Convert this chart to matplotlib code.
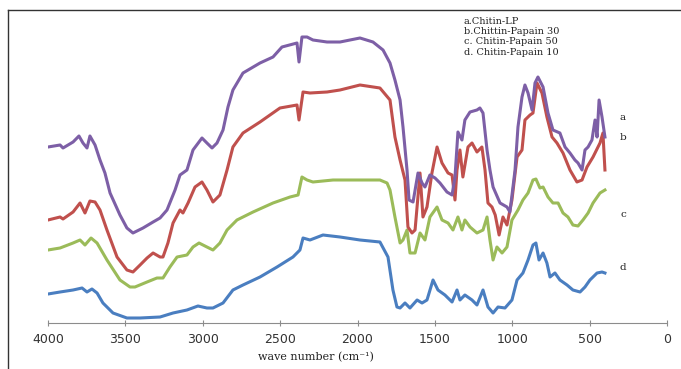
import matplotlib
matplotlib.use("Agg")
import matplotlib.pyplot as plt
from matplotlib.lines import Line2D

# wave numbers (cm-1) and transmittance (a.u.)
wn_a = [4000, 3922, 3903, 3838, 3800, 3774, 3748, 3729, 3696, 3664, 3632, 3599, 3535, 3490, 3451,
        3386, 3321, 3276, 3231, 3179, 3147, 3102, 3063, 3005, 2973, 2940, 2908, 2869, 2837, 2805,
        2740, 2630, 2546, 2488, 2391, 2378, 2359, 2326, 2288, 2197, 2113, 1984, 1900, 1835, 1790,
        1758, 1725, 1706, 1680, 1667, 1641, 1609, 1583, 1564, 1532, 1499, 1467, 1422, 1389, 1370,
        1351, 1325, 1306, 1273, 1228, 1209, 1189, 1163, 1144, 1124, 1079, 1034, 1015, 982, 963,
        937, 918, 898, 872, 853, 834, 801, 769, 737, 692, 659, 627, 595, 575, 549,
        530, 510, 485, 465, 452, 439, 420, 401]
t_a = [183, 185, 182, 188, 194, 187, 182, 194, 185, 170, 157, 137, 115, 102, 97,
       102, 108, 112, 120, 140, 155, 160, 180, 192, 187, 182, 187, 200, 223, 240,
       257, 267, 273, 283, 287, 268, 293, 293, 290, 288, 288, 292, 288, 280, 267,
       250, 230, 203, 160, 130, 128, 157, 147, 143, 155, 152, 147, 138, 135, 153,
       198, 190, 210, 218, 220, 222, 217, 180, 160, 143, 127, 123, 118, 160, 203,
       233, 245, 237, 220, 247, 253, 243, 217, 200, 197, 183, 177, 170, 167, 160,
       180, 183, 190, 210, 193, 230, 213, 193]

wn_b = [4000, 3922, 3903, 3838, 3793, 3761, 3729, 3696, 3664, 3619, 3554, 3490, 3451, 3405, 3360,
        3321, 3276, 3257, 3225, 3192, 3147, 3128, 3095, 3050, 3005, 2973, 2934, 2889, 2843, 2805,
        2740, 2630, 2501, 2391, 2378, 2352, 2307, 2197, 2113, 1984, 1855, 1790, 1758, 1725, 1693,
        1674, 1648, 1628, 1596, 1577, 1551, 1519, 1486, 1454, 1415, 1389, 1370, 1357, 1338, 1319,
        1286, 1260, 1228, 1196, 1176, 1157, 1131, 1110, 1085, 1060, 1034, 1002, 969, 937, 918,
        885, 866, 840, 808, 776, 743, 711, 672, 627, 582, 549, 517, 478, 433, 414,
        401]
t_b = [110, 113, 111, 118, 127, 117, 129, 128, 120, 100, 73, 60, 58, 65, 72,
       77, 73, 73, 87, 107, 120, 117, 127, 143, 148, 140, 128, 135, 160, 183,
       197, 208, 222, 225, 210, 238, 237, 238, 240, 245, 242, 230, 193, 170, 150,
       103, 97, 100, 157, 113, 123, 157, 183, 167, 157, 155, 130, 160, 180, 153,
       183, 187, 178, 183, 160, 127, 123, 115, 95, 113, 105, 130, 173, 180, 210,
       215, 217, 247, 237, 213, 193, 187, 177, 160, 148, 150, 163, 173, 187, 197,
       160]

wn_c = [4000, 3922, 3838, 3793, 3761, 3722, 3683, 3619, 3535, 3470, 3438, 3360, 3296, 3257, 3212,
        3166, 3102, 3063, 3024, 2973, 2934, 2889, 2843, 2779, 2675, 2546, 2436, 2384, 2359, 2326,
        2288, 2158, 1939, 1855, 1809, 1790, 1758, 1725, 1706, 1680, 1661, 1628, 1596, 1564, 1532,
        1486, 1454, 1415, 1383, 1351, 1325, 1306, 1273, 1228, 1189, 1163, 1144, 1124, 1099, 1066,
        1034, 1002, 963, 931, 898, 866, 847, 821, 801, 769, 737, 704, 672, 640, 608,
        575, 543, 510, 478, 433, 401]
t_c = [80, 82, 87, 90, 85, 92, 87, 70, 50, 43, 43, 48, 52, 52, 63,
       73, 75, 83, 87, 83, 80, 87, 100, 110, 118, 127, 133, 135, 153, 150,
       148, 150, 150, 150, 147, 140, 113, 87, 90, 100, 77, 77, 97, 90, 113,
       123, 110, 107, 100, 113, 100, 110, 103, 97, 100, 113, 90, 70, 83, 77,
       83, 110, 120, 130, 137, 150, 151, 142, 143, 133, 127, 127, 117, 113, 105,
       104, 110, 117, 127, 137, 140]

wn_d = [4000, 3922, 3838, 3780, 3748, 3716, 3683, 3645, 3580, 3490, 3405, 3276, 3192, 3102, 3031,
        2973, 2934, 2869, 2805, 2740, 2630, 2520, 2417, 2372, 2352, 2307, 2223, 2113, 1984, 1855,
        1803, 1771, 1745, 1725, 1693, 1661, 1615, 1583, 1551, 1512, 1480, 1435, 1389, 1357, 1338,
        1306, 1260, 1228, 1189, 1157, 1124, 1092, 1047, 1002, 969, 931, 898, 866, 847, 827,
        801, 776, 756, 724, 692, 646, 608, 562, 530, 498, 452, 420, 401]
t_d = [36, 38, 40, 42, 38, 41, 37, 27, 17, 12, 12, 13, 17, 20, 24,
       22, 22, 27, 40, 45, 53, 63, 73, 80, 92, 90, 95, 93, 90, 88,
       73, 40, 23, 22, 27, 22, 30, 27, 30, 50, 40, 35, 28, 40, 30,
       35, 30, 25, 40, 23, 17, 23, 22, 30, 50, 57, 70, 85, 87, 70,
       77, 67, 53, 57, 50, 45, 40, 38, 43, 50, 57, 58, 57]

legend_lines = ["a.Chitin-LP", "b.Chittin-Papain 30", "c. Chitin-Papain 50", "d. Chitin-Papain 10"]
xticks = [4000, 3500, 3000, 2500, 2000, 1500, 1000, 500, 0]

W, H = 681, 369
fig = plt.figure(figsize=(W / 100, H / 100), dpi=100)
ax = fig.add_axes([48 / W, (H - 323) / H, 619 / W, 313 / H])

ax.plot(wn_d, t_d, color="#4A7EC0", lw=2.2, solid_joinstyle="round")
ax.plot(wn_c, t_c, color="#9BBB59", lw=2.2, solid_joinstyle="round")
ax.plot(wn_b, t_b, color="#C0504D", lw=2.2, solid_joinstyle="round")
ax.plot(wn_a, t_a, color="#7D5FA6", lw=2.2, solid_joinstyle="round")

ax.set_xlim(4000, 0)
ax.set_ylim(7, 320)
ax.set_xticks(xticks)
ax.set_xticklabels([str(v) for v in xticks], fontsize=9, color="#333333")
ax.set_yticks([])
for s in ["top", "right", "left"]:
    ax.spines[s].set_visible(False)
ax.spines["bottom"].set_color("#8c8c8c")
ax.tick_params(axis="x", direction="inout", length=4, color="#8c8c8c", pad=5)

# series letters at the right end
serif = "DejaVu Serif"
for lab, ypix in zip(["a", "b", "c", "d"], [118, 138, 215, 268]):
    fig.text(623 / W, 1 - ypix / H, lab, fontsize=7.5, family=serif, color="#222222",
             ha="center", va="center")

for i, line in enumerate(legend_lines):
    fig.text(464 / W, 1 - (21 + 10.5 * i) / H, line, fontsize=7, family=serif,
             color="#222222", ha="left", va="center")

fig.text(316 / W, 1 - 357 / H, "wave number (cm\u207b\u00b9)", fontsize=8, family=serif,
         color="#222222", ha="center", va="center")

# outer frame of the picture
fig.add_artist(Line2D([8 / W, 8 / W], [0, 1 - 10 / H], transform=fig.transFigure,
                      color="#333333", lw=1))
fig.add_artist(Line2D([8 / W, 1], [1 - 10 / H, 1 - 10 / H], transform=fig.transFigure,
                      color="#333333", lw=1))

fig.savefig("out.png", dpi=100)
